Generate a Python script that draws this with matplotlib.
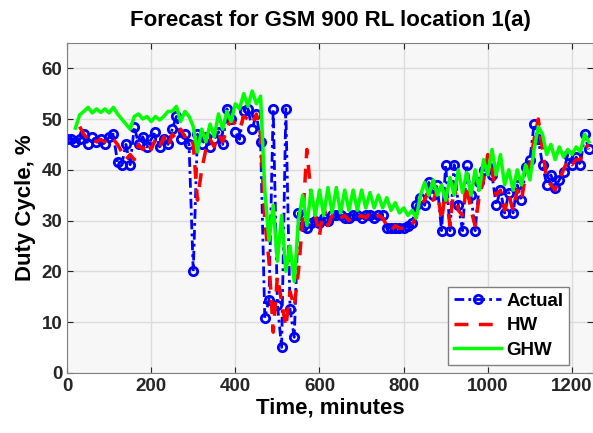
import numpy as np
import matplotlib.pyplot as plt

plt.rcParams['font.family'] = ['Liberation Sans', 'DejaVu Sans']
plt.rcParams['font.weight'] = 'bold'

# tiempo en minutos (una muestra cada 10 min)
tiempo = np.arange(0, 1250, 10)

nan = np.nan

# valores medidos
actual = [46, 46, 45.5, 46, 47, 45, 46.5, 45.5, 46, 45,
          46.5, 47, 41.5, 41, 45, 41, 48.5, 45, 46.5, 44.5,
          46, 47.5, 44.5, 46, 45, 48, 50.5, 46, 47, 45,
          20, 47, 45, 46.5, 44.5, 46, 47.5, 45, 52, 50,
          47.5, 46, 51.5, 52, 48, 51, 45.5, 10.8, 14.4, 52,
          13.4, 5, 52, 12.5, 7, 31.5, 29, 28.5, 29.5, 30,
          29.5, 30.5, 30, 31, 31, 31, 30.5, 30.5, 31, 31,
          30.5, 31, 31, 30.5, 31, 31, 28.5, 28.5, 28.5, 28.5,
          28.5, 29, 29.5, 33, 34.5, 33, 37.5, 35, 37, 28,
          41, 28, 41, 33, 28, 41, 35, 28, 37.5, 40,
          40.5, 39, 33, 36, 31.5, 35.5, 31.5, 37, 34, 40.5,
          42, 49, 46, 41, 37, 39, 36.5, 38, 39.5, 43,
          41, 42.5, 41, 47, 44]

# prediccion Holt-Winters
hw = [nan, nan, nan, 48.5, 47, 46, 46.5, 45.5, 46, 45.5,
      45, 46, 45, 43.5, 42, 43, 42, 45, 44, 45.5,
      44, 46, 44.5, 46.5, 44.5, 47, 46, 48, 46.5, 47,
      45, 34, 40, 44, 46, 44.5, 47, 45.5, 48, 50,
      49, 48, 50.5, 50, 49, 51, 47, 30, 22, 8,
      19, 14, 9, 16, 13, 20, 30, 44, 35, 31,
      27, 33, 29, 31, 30, 30.5, 31, 30, 31, 30.5,
      31, 30.5, 31.5, 30.5, 31, 30.5, 29, 28, 29, 28.5,
      28.5, 29, 29, 31, 33, 34, 36, 34, 36, 30,
      36, 29, 37, 32, 31, 37, 32, 29, 35, 38,
      43, 40, 35, 36, 32, 35, 32, 36, 34, 39,
      41, 46, 50, 44, 38, 37, 36, 38, 40, 42,
      41, 42, 42, 44, 45]

# prediccion GHW
ghw = [nan, nan, 48.2, 50.8, 51.5, 52.3, 51.2, 52, 51.3, 52,
       51.2, 52.3, 51, 50, 49, 48, 50.5, 51, 50, 50.5,
       49.5, 50.5, 49.8, 50.5, 51.5, 51.5, 52.5, 49.5, 51.5, 50.5,
       48.5, 43.5, 48, 45.5, 49, 46.5, 51, 48, 51.5, 49.5,
       53, 52, 55, 52.5, 55.5, 53, 54.5, 36, 26, 33,
       22, 31, 20, 25, 18, 30, 35, 29, 36, 31,
       36, 31, 36.5, 31.5, 36.5, 31.5, 36, 32, 36, 32,
       36, 32.5, 35.5, 32.5, 35, 32.5, 34.5, 32, 33.5, 31.5,
       32.5, 31, 32, 30.5, 35, 37.5, 35, 38, 35, 37,
       34, 38.5, 35, 40, 35.5, 39.5, 35, 40, 36, 42,
       39, 44, 39, 43, 37, 40, 36, 40, 37, 41,
       38, 44, 48.5, 47, 43, 45, 42, 44.5, 42.5, 44,
       43, 44.5, 43.5, 47, 45.5]

fig = plt.figure(figsize=(5.93, 4.33), dpi=100)
ax = fig.add_axes([0.113, 0.139, 0.887, 0.762])
ax.set_facecolor('#f7f7f7')

ax.plot(tiempo, actual, color='blue', dashes=(3.5, 1.5, 1, 1.5), marker='o',
        markersize=6, markerfacecolor='none', markeredgewidth=2,
        linewidth=2, label='Actual')
ax.plot(tiempo, hw, color='red', dashes=(4, 3), linewidth=2.5, label='HW')
ax.plot(tiempo, ghw, '-', color='#00ff00', linewidth=2.5, label='GHW')

ax.set_xlim(0, 1250)
ax.set_ylim(0, 65)
ax.set_xticks([0, 200, 400, 600, 800, 1000, 1200])
ax.set_yticks([0, 10, 20, 30, 40, 50, 60])
ax.grid(True, color='#dcdcdc', linewidth=1)
ax.set_axisbelow(True)
ax.tick_params(direction='in', top=True, right=True, labelsize=13.5,
               colors='#262626', length=4)
for s in ax.spines.values():
    s.set_color('#808080')

ax.set_title('Forecast for GSM 900 RL location 1(a)', fontsize=16,
             fontweight='bold', pad=12)
ax.set_xlabel('Time, minutes', fontsize=16, fontweight='bold', labelpad=2)
ax.set_ylabel('Duty Cycle, %', fontsize=16, fontweight='bold', labelpad=4)

leg = ax.legend(loc='lower right', bbox_to_anchor=(0.955, 0.025),
                borderaxespad=0, fontsize=13.5, handlelength=2.5,
                labelspacing=0.4, fancybox=False, framealpha=1,
                edgecolor='#808080', handletextpad=0.3, borderpad=0.3)

plt.savefig('out.png')
